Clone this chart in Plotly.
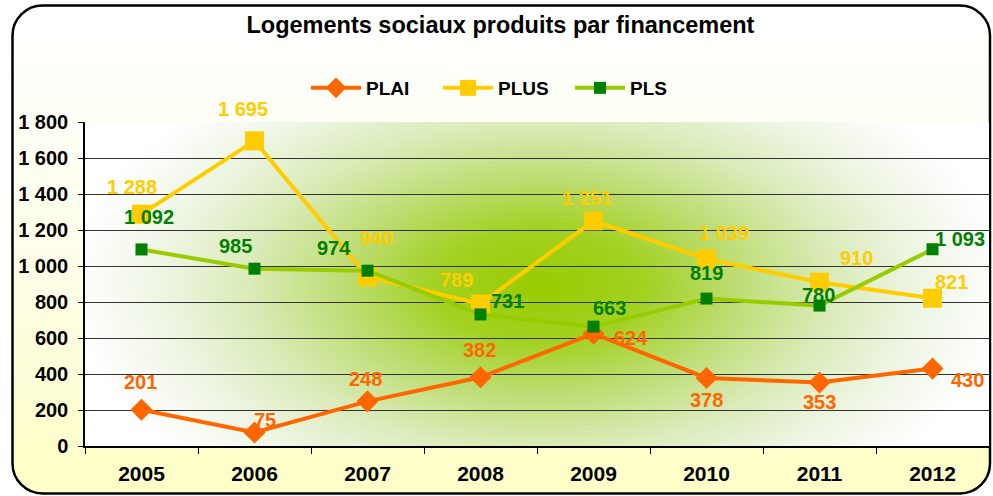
import base64
import plotly.graph_objects as go

years = ["2005", "2006", "2007", "2008", "2009", "2010", "2011", "2012"]
plai = [201, 75, 248, 382, 624, 378, 353, 430]
plus = [1288, 1695, 940, 789, 1251, 1039, 910, 821]
pls = [1092, 985, 974, 731, 663, 819, 780, 1093]
y_ticks = [0, 200, 400, 600, 800, 1000, 1200, 1400, 1600, 1800]
title_text = "Logements sociaux produits par financement"
series_names = ["PLAI", "PLUS", "PLS"]

# label offsets in pixels (dx, dy up)
off_plai = [(-1, 28), (10, 13), (-2, 22), (-1, 27), (37, -4), (0, -22), (0, -20), (35, -11)]
off_plus = [(-10, 27), (-12, 32), (9, 39), (-24, 24), (-7, 23), (17, 26), (37, 24), (19, 16)]
off_pls = [(7, 32), (-19, 23), (-34, 23), (27, 13), (16, 19), (0, 26), (-1, 11), (27, 10)]

FONT = "Liberation Sans, Arial, sans-serif"
C_PLAI = "#FF6600"
C_PLUS = "#FFCC00"
C_PLS_LINE = "#99CC00"
C_PLS_MARK = "#008000"


def fmt(v):
    return f"{v:,}".replace(",", " ")


W, H = 993, 496
L, R, T, B = 85, 4, 122, 50
PW, PH = W - L - R, H - T - B

paper_svg = f"""<svg xmlns='http://www.w3.org/2000/svg' width='{W}' height='{H}' viewBox='0 0 {W} {H}' preserveAspectRatio='none'>
<defs><linearGradient id='g' x1='0' y1='0' x2='0' y2='1'>
<stop offset='0' stop-color='#FFFFFF'/><stop offset='0.25' stop-color='#FFFFF6'/>
<stop offset='0.6' stop-color='#FEFEE4'/><stop offset='0.9' stop-color='#FFFFCC'/><stop offset='1' stop-color='#FFFFC8'/>
</linearGradient></defs>
<rect x='12.5' y='5.5' width='977.5' height='488' rx='30' ry='30' fill='url(#g)' stroke='#000' stroke-width='2.5'/>
</svg>"""

cx, cy = 455, 164
plot_svg = f"""<svg xmlns='http://www.w3.org/2000/svg' width='{PW}' height='{PH}' viewBox='0 0 {PW} {PH}' preserveAspectRatio='none'>
<defs><radialGradient id='r' gradientUnits='userSpaceOnUse' cx='{cx}' cy='{cy}' r='470'
gradientTransform='translate({cx},{cy}) scale(1,0.55) translate(-{cx},-{cy})'>
<stop offset='0' stop-color='#99CC00'/><stop offset='0.22' stop-color='#A3D122'/>
<stop offset='0.42' stop-color='#BEDD74'/><stop offset='0.62' stop-color='#DAEBB8'/>
<stop offset='0.8' stop-color='#EDF5E2'/><stop offset='0.92' stop-color='#F8FBF4'/>
<stop offset='1' stop-color='#FFFFFF'/></radialGradient></defs>
<rect width='{PW}' height='{PH}' fill='#FFFFFF'/>
<rect width='{PW}' height='{PH}' fill='url(#r)'/>
</svg>"""


def uri(svg):
    return "data:image/svg+xml;base64," + base64.b64encode(svg.encode()).decode()


fig = go.Figure()
fig.add_trace(go.Scatter(x=years, y=plai, name=f"<b>{series_names[0]}</b>", mode="lines+markers",
                         line=dict(color=C_PLAI, width=4),
                         marker=dict(symbol="diamond", size=17, color=C_PLAI)))
fig.add_trace(go.Scatter(x=years, y=plus, name=f"<b>{series_names[1]}</b>", mode="lines+markers",
                         line=dict(color=C_PLUS, width=4),
                         marker=dict(symbol="square", size=19, color=C_PLUS)))
fig.add_trace(go.Scatter(x=years, y=pls, name=f"<b>{series_names[2]}</b>", mode="lines+markers",
                         line=dict(color=C_PLS_LINE, width=4),
                         marker=dict(symbol="square", size=12, color=C_PLS_MARK)))

annotations = []
for vals, offs, col in [(plai, off_plai, C_PLAI), (plus, off_plus, C_PLUS), (pls, off_pls, C_PLS_MARK)]:
    for i, (v, (dx, dy)) in enumerate(zip(vals, offs)):
        annotations.append(dict(x=i, y=v, xref="x", yref="y", text=f"<b>{fmt(v)}</b>",
                                showarrow=False, xshift=dx, yshift=dy,
                                font=dict(family=FONT, size=20, color=col)))

fig.update_layout(
    width=W, height=H,
    margin=dict(l=L, r=R, t=T, b=B, pad=0),
    paper_bgcolor="rgba(0,0,0,0)",
    plot_bgcolor="rgba(0,0,0,0)",
    font=dict(family=FONT, color="#000000"),
    title=dict(text=f"<b>{title_text}</b>", x=0.504, xanchor="center",
               y=1 - 25 / H, yanchor="middle", yref="container",
               font=dict(family=FONT, size=23.5, color="#000000")),
    showlegend=True,
    legend=dict(orientation="h", x=(306 - L) / PW, xanchor="left", y=(H - B - 88) / PH, yanchor="middle",
                bgcolor="rgba(0,0,0,0)", font=dict(family=FONT, size=19, color="#000000"),
                itemsizing="trace", traceorder="normal", itemwidth=50,
                entrywidth=67, entrywidthmode="pixels"),
    xaxis=dict(type="category", tickson="boundaries", ticks="outside", ticklen=6,
               tickcolor="#000000", tickwidth=1, showline=True, linecolor="#000000", linewidth=2,
               showgrid=False, zeroline=False, range=[-0.5, 7.5],
               tickvals=years, ticktext=[f"<b>{y}</b>" for y in years],
               tickfont=dict(family="Liberation Sans Narrow, Arial Narrow, Liberation Sans", size=21, color="#000000"),
               ticklabelstandoff=8),
    yaxis=dict(range=[0, 1800], tickvals=y_ticks, ticktext=[f"<b>{fmt(v)}</b>" for v in y_ticks],
               ticks="outside", ticklen=5, tickcolor="#000000", showline=True, linecolor="#000000",
               linewidth=1.5, showgrid=True, gridcolor="#333333", gridwidth=1, zeroline=False,
               tickfont=dict(family=FONT, size=20, color="#000000"), ticklabelstandoff=6),
    annotations=annotations,
    images=[
        dict(source=uri(paper_svg), xref="paper", yref="paper", x=-L / PW, y=(H - B) / PH,
             sizex=W / PW, sizey=H / PH, xanchor="left", yanchor="top", sizing="stretch", layer="below"),
        dict(source=uri(plot_svg), xref="paper", yref="paper", x=0, y=1, sizex=1, sizey=1,
             xanchor="left", yanchor="top", sizing="stretch", layer="below"),
    ],
)

fig.write_html("out.html", post_script="document.body.style.margin='0';",
               config={"displayModeBar": False})
